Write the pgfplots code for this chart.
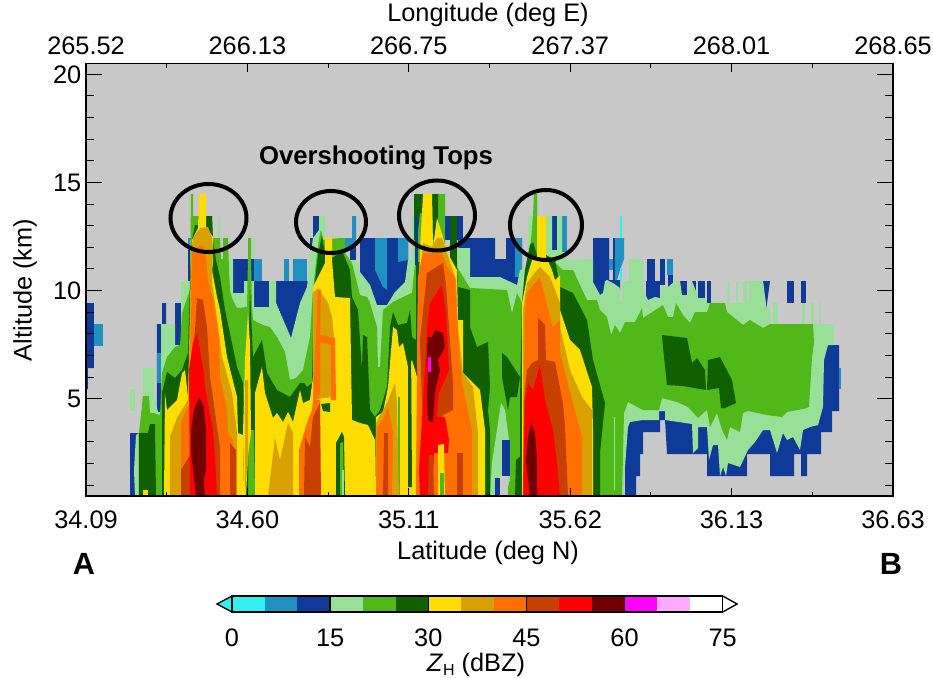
\documentclass[border=0pt]{standalone}
\usepackage{pgfplots}
\pgfplotsset{compat=1.18}
\usepackage{fontspec}
\setmainfont{Liberation Sans}
\definecolor{bgg}{HTML}{C8C8C8}
\definecolor{ca}{HTML}{30F0F0}\definecolor{cb}{HTML}{2090C0}\definecolor{cc}{HTML}{103A98}
\definecolor{cd}{HTML}{98E098}\definecolor{ce}{HTML}{50B818}\definecolor{cf}{HTML}{106000}
\definecolor{cg}{HTML}{FFDD00}\definecolor{ch}{HTML}{D8A000}\definecolor{ci}{HTML}{FF7000}
\definecolor{cj}{HTML}{C84000}\definecolor{ck}{HTML}{FF0000}\definecolor{cl}{HTML}{700000}
\definecolor{cm}{HTML}{FF00FF}\definecolor{cn}{HTML}{FFAAFF}
\newcommand{\fa}{\fontsize{19}{22}\selectfont}
\pgfplotsset{
  base/.style={scale only axis,width=605.25pt,height=324.375pt,at={(64.5pt,-372pt)},anchor=south west,
    xmin=34.09,xmax=36.63,ymin=0.5,ymax=20.5,axis line style={line width=1.3pt},tick style={black,line width=0.8pt},
    tick label style={font=\fa},/pgf/number format/assume math mode=true,
    tick align=inside},
  xt/.style={xtick={34.09,34.598,35.106,35.614,36.122,36.63},minor xtick={34.344,34.852,35.36,35.868,36.376},
    major tick length=6pt,minor tick length=3pt,ytick=\empty,xtick pos=both},
  a/.style={fill=ca,draw=none},b/.style={fill=cb,draw=none},c/.style={fill=cc,draw=none},
  d/.style={fill=cd,draw=none},e/.style={fill=ce,draw=none},f/.style={fill=cf,draw=none},
  g/.style={fill=cg,draw=none},h/.style={fill=ch,draw=none},i/.style={fill=ci,draw=none},
  j/.style={fill=cj,draw=none},k/.style={fill=ck,draw=none},l/.style={fill=cl,draw=none},
}
\begin{document}
\begin{tikzpicture}[x=0.75pt,y=-0.75pt]
\path[use as bounding box] (0,0) rectangle (933,678);
\begin{axis}[base,axis on top,axis background/.style={fill=bgg},
  xtick=\empty,ytick={5,10,15,20},minor ytick={1,2,3,4,6,7,8,9,11,12,13,14,16,17,18,19},
  major tick length=12pt,minor tick length=6pt,ytick pos=both,yticklabel pos=left,
  x filter/.expression={34.09+(x-86)*0.0031475},y filter/.expression={0.5+(496-y)/21.625}]
% blue and light blue
\addplot[c] coordinates {(86,303)(94,303)(94,368)(88,368)(88,389)(86,389)};
\addplot[b] coordinates {(94,324)(103,324)(103,346)(94,346)};
\addplot[c] coordinates {(130,433)(139,433)(139,496)(130,496)};
\addplot[c] coordinates {(157,324)(162,324)(162,303)(166,303)(166,330)(162,412)(157,412)};
\addplot[b] coordinates {(157,353)(161,353)(161,383)(157,383)};
\addplot[c] coordinates {(175,303)(181,303)(181,345)(175,345)};
\addplot[b] coordinates {(188,238)(191,238)(191,250)(188,250)};
\addplot[c] coordinates {(188,250)(190,250)(190,281)(188,281)};
\addplot[c] coordinates {(233,259)(254,259)(254,281)(244,281)(244,293)(233,293)};
\addplot[b] coordinates {(254,259)(262,259)(262,281)(254,281)};
\addplot[c] coordinates {(254,281)(269,281)(269,307)(254,307)};
\addplot[c] coordinates {(276,281)(313,281)(313,300)(291,340)(276,303)};
\addplot[b] coordinates {(284,259)(289,259)(289,281)(284,281)};
\addplot[b] coordinates {(293,259)(307,259)(307,281)(293,281)};
\addplot[c] coordinates {(310,238)(313,238)(313,216)(319,216)(319,250)(310,250)};
\addplot[c] coordinates {(350,238)(356,238)(356,260)(350,260)};
\addplot[b] coordinates {(345,238)(352,238)(352,216)(356,216)(356,238)(356,245)(345,253)};
\addplot[c] coordinates {(360,238)(408,238)(408,290)(395,300)(385,310)(375,310)(365,285)(360,280)};
\addplot[b] coordinates {(375,238)(387,238)(387,290)(383,287)(375,270)};
\addplot[b] coordinates {(398,238)(408,238)(408,260)(398,262)};
\addplot[c] coordinates {(445,216)(463,216)(463,240)(445,240)};
\addplot[c] coordinates {(458,238)(495,238)(495,259)(506,259)(506,238)(522,238)(522,290)(460,290)};
\addplot[b] coordinates {(515,238)(522,238)(522,277)(515,277)};
\addplot[c] coordinates {(552,216)(557,216)(557,250)(552,250)};
\addplot[b] coordinates {(562,216)(567,216)(567,252)(562,252)};
\addplot[c] coordinates {(593,238)(609,238)(609,280)(618,280)(619,295)(593,295)};
\addplot[b] coordinates {(609,259)(613,259)(613,270)(609,270)};
\addplot[c] coordinates {(613,238)(615,238)(615,280)(620,280)(620,290)(613,290)};
\addplot[b] coordinates {(615,238)(624,238)(624,259)(620,270)(617,280)(615,280)};
\addplot[a] coordinates {(620,216)(622,216)(622,238)(620,238)};
\addplot[a] coordinates {(620,268)(622,268)(622,281)(620,281)};
\addplot[c] coordinates {(646,281)(660,281)(660,300)(646,300)};
\addplot[c] coordinates {(647,259)(655,259)(655,285)(647,285)};
\addplot[c] coordinates {(660,259)(665,259)(665,285)(660,285)};
\addplot[b] coordinates {(667,259)(673,259)(673,275)(667,275)};
\addplot[c] coordinates {(668,275)(673,275)(673,288)(668,288)};
\addplot[c] coordinates {(680,281)(687,281)(687,296)(680,296)};
\addplot[c] coordinates {(692,281)(696,281)(696,295)(692,295)};
\addplot[c] coordinates {(698,281)(705,281)(705,300)(698,300)};
\addplot[c] coordinates {(707,281)(711,281)(711,303)(707,303)};
\addplot[c] coordinates {(763,281)(770,281)(766,311)};
\addplot[c] coordinates {(787,281)(794,281)(794,303)(787,303)};
\addplot[c] coordinates {(801,281)(806,281)(806,303)(801,303)};
\addplot[c] coordinates {(625,496)(636,496)(636,476)(640,476)(640,454)(643,454)(643,432)(660,432)(660,420)(665,420)(667,454)(707,454)(707,476)(747,476)(747,454)(770,454)(770,476)(794,476)(794,454)(801,454)(801,476)(807,476)(807,454)(821,454)(821,432)(832,432)(832,411)(839,411)(839,345)(828,345)(700,400)(625,400)};
\addplot[b] coordinates {(839,368)(841,368)(841,389)(839,389)};
% light green
\addplot[d] coordinates {(130,389)(135,389)(135,411)(130,411)};
\addplot[d] coordinates {(253,238)(255,238)(255,259)(253,259)};
\addplot[d] coordinates {(773,303)(778,303)(778,324)(773,324)};
\addplot[d] coordinates {(802,303)(805,303)(805,335)(802,335)};
\addplot[d] coordinates {(811,303)(814,303)(814,324)(811,324)};
\addplot[d] coordinates {(819,303)(821,303)(821,324)(819,324)};
\addplot[d] coordinates {(135,496)(134,470)(136,435)(139,433)(143,433)(143,368)(154,368)(154,395)(158,412)(161,412)(161,324)(175,324)(175,345)(181,345)(181,281)(190,281)(190,240)(213,240)(218,238)(218,216)(220,216)(220,259)(233,259)(233,293)(244,293)(244,281)(254,281)(254,307)(269,307)(269,281)(276,281)(276,303)(291,338)(300,303)(307,287)(310,259)(313,238)(319,230)(319,216)(325,216)(325,238)(340,238)(345,253)(350,260)(356,260)(360,272)(370,285)(377,305)(387,305)(395,292)(405,282)(408,260)(412,260)(412,216)(415,216)(415,262)(457,262)(457,248)(470,248)(470,277)(500,277)(517,285)(520,270)(528,268)(528,216)(533,216)(533,194)(537,194)(537,216)(552,216)(552,250)(557,250)(557,216)(562,216)(562,252)(567,252)(567,260)(593,259)(593,282)(600,295)(603,293)(605,281)(607,280)(613,283)(620,288)(620,302)(622,302)(622,281)(629,281)(629,259)(643,259)(643,281)(643,290)(648,300)(655,297)(660,298)(662,285)(668,287)(675,281)(680,281)(682,295)(687,295)(692,281)(697,294)(698,298)(705,298)(707,303)(725,303)(727,317)(728,281)(730,281)(730,303)(736,303)(736,281)(738,281)(738,303)(743,303)(743,281)(747,281)(747,303)(749,303)(749,281)(763,281)(767,311)(770,307)(770,324)(834,324)(834,345)(828,345)(824,360)(823,407)(818,425)(810,427)(803,430)(800,450)(793,437)(787,440)(783,433)(777,453)(770,430)(763,430)(755,442)(748,450)(740,467)(728,463)(726,476)(723,467)(720,476)(718,445)(713,445)(709,460)(707,427)(698,427)(698,448)(693,453)(692,424)(665,420)(665,411)(659,411)(659,420)(643,420)(630,422)(628,427)(625,467)(623,496)};
% green
\addplot[e] coordinates {(139,496)(139,433)(143,396)(149,396)(150,413)(154,413)(160,415)(162,373)(167,357)(175,347)(180,345)(182,313)(190,290)(191,194)(193,194)(193,216)(212,216)(213,238)(220,238)(221,259)(223,259)(223,238)(228,238)(229,270)(230,290)(232,298)(237,308)(247,307)(248,259)(248,238)(251,238)(251,259)(252,307)(253,320)(263,325)(270,327)(277,337)(285,352)(290,380)(296,378)(303,370)(310,337)(313,290)(317,253)(320,233)(321,230)(323,240)(340,238)(345,238)(345,253)(352,263)(360,295)(367,297)(370,303)(377,327)(378,367)(380,367)(383,310)(393,302)(403,297)(412,293)(415,263)(414,194)(445,194)(445,262)(457,267)(470,288)(507,290)(512,313)(517,293)(522,303)(525,270)(531,240)(533,216)(534,194)(537,194)(537,260)(552,260)(563,270)(573,270)(587,300)(597,300)(600,310)(607,317)(611,335)(615,325)(620,333)(625,322)(635,322)(642,308)(643,318)(663,305)(668,317)(673,317)(676,303)(683,315)(690,323)(695,312)(707,312)(710,303)(725,303)(727,312)(743,325)(750,320)(763,328)(770,324)(813,324)(814,343)(812,357)(809,407)(803,409)(787,412)(782,417)(767,415)(748,411)(743,413)(740,432)(730,427)(727,440)(722,430)(717,413)(710,427)(707,410)(698,418)(688,407)(677,402)(662,398)(659,410)(643,410)(628,402)(624,413)(622,496)};
\addplot[d] coordinates {(613.5,417)(614.5,417)(614.5,490)(613.5,490)};
% notch under the gap between storms three and four
\addplot[d] coordinates {(490,496)(492,463)(501,403)(505,410)(509,440)(510,480)(505,496)};
\addplot[c] coordinates {(502,440)(510,440)(510,476)(502,476)};
\addplot[c] coordinates {(495,478)(500,478)(500,496)(495,496)};
\addplot[fill=bgg,draw=none] coordinates {(500,476)(508,476)(508,496)(500,496)};
% dark green
\addplot[f] coordinates {(139,496)(139,433)(148,433)(150,424)(155,424)(156,496)};
\addplot[f] coordinates {(162,496)(162,393)(167,372)(175,378)(182,370)(188,353)(190,281)(192,240)(195,225)(198,225)(198,216)(212,216)(213,240)(216,260)(220,277)(225,310)(237,367)(243,383)(245,433)(248,377)(250,290)(253,357)(262,340)(267,373)(277,390)(290,397)(300,383)(304,383)(307,387)(312,383)(314,290)(318,255)(322,235)(325,255)(332,258)(340,253)(343,253)(350,270)(352,297)(358,310)(362,370)(363,335)(367,337)(370,410)(375,417)(380,410)(387,387)(390,327)(393,312)(398,325)(407,323)(410,310)(412,337)(416,340)(416,262)(457,262)(458,287)(470,290)(470,327)(477,347)(488,342)(490,387)(488,410)(490,430)(490,496)};
\addplot[f] coordinates {(502,353)(507,357)(520,377)(517,397)(510,397)(508,410)(502,377)};
\addplot[f] coordinates {(515,496)(516,460)(522,455)(522,496)};
\addplot[f] coordinates {(520,400)(522,303)(525,270)(530,245)(533,242)(537,255)(546,255)(555,260)(560,287)(573,293)(587,320)(593,360)(605,403)(600,453)(600,496)(520,496)};
\addplot[f] coordinates {(414,194)(423,194)(423,213)(420,213)(417,240)(414,240)};
\addplot[f] coordinates {(432,194)(438,194)(438,237)(433,240)};
\addplot[f] coordinates {(450,216)(457,216)(457,262)(450,262)};
\addplot[c] coordinates {(415,216)(418,216)(418,265)(415,265)};
\addplot[e] coordinates {(248,496)(248,430)(254,430)(255,496)};
\addplot[f] coordinates {(246,496)(247,456)(248,456)(248,496)};
% yellow
\addplot[g] coordinates {(143,496)(143,490)(148,490)(148,496)};
\addplot[g] coordinates {(164,496)(165,393)(167,410)(177,400)(182,373)(185,370)(188,397)(191,300)(192,240)(198,228)(199,194)(206,194)(206,227)(213,237)(213,263)(212,270)(217,297)(220,310)(227,357)(237,397)(238,433)(243,435)(244,496)};
\addplot[g] coordinates {(243,433)(245,360)(248,313)(250,343)(251,433)(248,456)(246,496)(244,496)};
\addplot[g] coordinates {(255,496)(255,393)(262,367)(265,393)(273,418)(277,413)(283,422)(288,412)(293,422)(300,390)(303,403)(310,400)(313,377)(313,287)(325,263)(325,238)(332,238)(332,260)(335,297)(350,298)(352,420)(360,423)(368,425)(375,440)(375,496)};
\addplot[g] coordinates {(375,496)(376,417)(383,412)(388,387)(393,327)(397,330)(399,347)(403,343)(408,367)(412,360)(417,377)(418,496)};
\addplot[e] coordinates {(398,397)(400,397)(400,496)(398,496)};
\addplot[f] coordinates {(408,343)(411,343)(412,487)(408,487)};
\addplot[g] coordinates {(416,496)(418,303)(420,250)(423,194)(432,194)(433,247)(437,218)(443,237)(446,250)(457,270)(458,320)(463,320)(463,373)(480,390)(485,430)(485,496)};
\addplot[g] coordinates {(522,496)(522,303)(527,277)(533,257)(537,257)(537,216)(546,216)(546,257)(552,270)(555,280)(560,275)(560,310)(570,340)(580,350)(592,387)(593,430)(593,496)};
% storm between two and three: bottom
\addplot[f] coordinates {(336,496)(336,443)(342,432)(344,437)(345,496)};
\addplot[e] coordinates {(340,496)(340,443)(343,442)(344,496)};
\addplot[d] coordinates {(342,470)(344,470)(344,496)(342,496)};
\addplot[f] coordinates {(321,404)(330,403)(330,412)(323,411)};
% gold
\addplot[h] coordinates {(170,496)(170,437)(177,418)(188,400)(191,253)(193,238)(200,228)(208,227)(212,238)(213,250)(212,283)(215,303)(222,357)(232,393)(237,433)(237,496)};
\addplot[h] coordinates {(313,293)(318,288)(328,303)(332,317)(335,347)(335,397)(322,398)(318,400)(313,400)};
\addplot[h] coordinates {(268,496)(275,438)(280,460)(288,423)(293,433)(293,496)};
\addplot[h] coordinates {(376,496)(376,423)(387,403)(395,383)(397,403)(399,496)};
\addplot[h] coordinates {(245,496)(245,380)(248,380)(248,456)};
\addplot[h] coordinates {(418,290)(423,243)(432,247)(437,238)(442,238)(446,250)(456,280)(458,327)(463,373)(473,387)(478,433)(478,496)(416,496)};
\addplot[h] coordinates {(523,496)(523,310)(527,283)(537,270)(540,267)(550,277)(560,303)(560,327)(570,370)(582,397)(592,410)(592,496)};
% orange
\addplot[i] coordinates {(181,496)(181,423)(186,410)(190,403)(192,250)(203,245)(206,257)(208,280)(213,300)(219,337)(220,377)(227,410)(228,433)(233,440)(236,496)};
\addplot[i] coordinates {(318,290)(321,290)(320,335)(335,338)(336,400)(331,400)(331,345)(320,342)(320,395)(315,400)(313,400)};
\addplot[i] coordinates {(299,496)(299,450)(307,423)(312,410)(313,400)(320,400)(320,496)};
\addplot[i] coordinates {(376,496)(377,427)(383,420)(388,407)(393,433)(392,496)};
\addplot[i] coordinates {(418,277)(423,253)(442,253)(447,267)(455,277)(457,320)(462,383)(472,430)(472,496)(416,496)};
\addplot[i] coordinates {(523,496)(525,313)(527,293)(540,277)(550,317)(553,327)(560,320)(560,353)(573,403)(582,437)(582,496)};
% dark orange
\addplot[j] coordinates {(197,298)(203,300)(207,327)(210,377)(213,397)(217,427)(220,447)(220,496)(190,496)(190,380)(195,330)};
\addplot[j] coordinates {(181,496)(181,470)(190,455)(190,496)};
\addplot[j] coordinates {(230,443)(236,450)(236,496)(230,496)};
\addplot[j] coordinates {(304,496)(305,437)(310,447)(313,417)(320,403)(321,496)};
\addplot[j] coordinates {(383,496)(384,433)(388,433)(388,496)};
\addplot[j] coordinates {(420,340)(427,273)(443,263)(446,285)(449,327)(453,383)(453,410)(443,415)(438,433)(423,433)};
\addplot[j] coordinates {(457,496)(457,453)(463,453)(463,496)};
\addplot[j] coordinates {(527,370)(532,363)(538,360)(538,318)(545,325)(546,360)(555,362)(563,403)(565,427)(568,496)(523,496)(524,400)};
% red
\addplot[k] coordinates {(197,333)(203,367)(205,387)(208,403)(213,430)(215,457)(217,496)(190,496)(189,370)(193,343)};
\addplot[k] coordinates {(427,327)(430,303)(442,285)(446,313)(449,370)(439,393)(437,417)(445,417)(449,440)(448,453)(437,453)(432,496)(420,496)(419,470)(422,420)(425,370)};
\addplot[k] coordinates {(525,403)(528,383)(533,390)(540,365)(545,400)(553,430)(557,463)(560,496)(523,496)};
\addplot[i] coordinates {(432,496)(434,453)(448,453)(450,496)};
\addplot[j] coordinates {(428,496)(429,455)(433,455)(434,496)};
\addplot[g] coordinates {(438,496)(438,445)(444,444)(445,496)};
\addplot[e] coordinates {(440,496)(440,473)(444,473)(444,496)};
% maroon
\addplot[l] coordinates {(199,397)(204,407)(206,430)(206,470)(204,480)(205,496)(196,496)(193,470)(191,450)(191,430)(194,410)};
\addplot[l] coordinates {(428,337)(432,337)(435,330)(443,333)(445,347)(438,360)(440,370)(435,393)(433,423)(428,420)(427,397)(428,377)(427,357)};
\addplot[l] coordinates {(528,437)(531,423)(535,433)(537,460)(537,496)(530,496)(526,460)};
\addplot[fill=cm,draw=none] coordinates {(428,357)(431,357)(431,372)(428,372)};
% dark green blocks, right side
\addplot[f] coordinates {(662,335)(687,338)(692,363)(697,358)(705,370)(706,390)(683,386)(667,385)(663,347)};
\addplot[f] coordinates {(708,360)(720,357)(732,380)(736,403)(725,408)(721,408)(719,388)(707,390)};
\end{axis}
\begin{axis}[base,xt,axis line style={draw=none},xticklabel pos=lower,xticklabel style={yshift=-7.5pt},
  xticklabels={34.09,34.60,35.11,35.62,36.13,36.63}]
\end{axis}
\begin{axis}[base,xt,axis line style={draw=none},xticklabel pos=upper,xticklabel style={yshift=3pt},
  xticklabels={265.52,266.13,266.75,267.37,268.01,268.65}]
\end{axis}
\begin{axis}[scale only axis,width=368pt,height=12pt,at={(174pt,-459pt)},anchor=south west,
  xmin=0,xmax=75,ymin=0,ymax=1,clip=false,axis on top,ytick=\empty,xtick={0,15,...,75},
  major tick length=0pt,xmajorgrids,grid style={black,line width=1pt},
  axis line style={line width=1pt},tick label style={font=\fa},
  /pgf/number format/assume math mode=true,xticklabel style={yshift=-9pt}]
\addplot[fill=ca,draw=black,line width=1pt] coordinates {(0,0)(-2.3,.5)(0,1)};
\addplot[fill=white,draw=black,line width=1pt] coordinates {(75,0)(77.2,.5)(75,1)};
\addplot[a] coordinates {(0,0)(5,0)(5,1)(0,1)};
\addplot[b] coordinates {(5,0)(10,0)(10,1)(5,1)};
\addplot[c] coordinates {(10,0)(15,0)(15,1)(10,1)};
\addplot[d] coordinates {(15,0)(20,0)(20,1)(15,1)};
\addplot[e] coordinates {(20,0)(25,0)(25,1)(20,1)};
\addplot[f] coordinates {(25,0)(30,0)(30,1)(25,1)};
\addplot[g] coordinates {(30,0)(35,0)(35,1)(30,1)};
\addplot[h] coordinates {(35,0)(40,0)(40,1)(35,1)};
\addplot[i] coordinates {(40,0)(45,0)(45,1)(40,1)};
\addplot[j] coordinates {(45,0)(50,0)(50,1)(45,1)};
\addplot[k] coordinates {(50,0)(55,0)(55,1)(50,1)};
\addplot[l] coordinates {(55,0)(60,0)(60,1)(55,1)};
\addplot[fill=cm,draw=none] coordinates {(60,0)(65,0)(65,1)(60,1)};
\addplot[fill=cn,draw=none] coordinates {(65,0)(70,0)(70,1)(65,1)};
\addplot[fill=white,draw=none] coordinates {(70,0)(75,0)(75,1)(70,1)};
\end{axis}
\draw[line width=3pt] (208.5,218) ellipse [x radius=38,y radius=34];
\draw[line width=3pt] (331,222) ellipse [x radius=35,y radius=31];
\draw[line width=3pt] (437,215.5) ellipse [x radius=38,y radius=35];
\draw[line width=3pt] (546,225) ellipse [x radius=36,y radius=35];
\node[font=\fa] at (488,15) {Longitude (deg E)};
\node[font=\fa] at (488,553) {Latitude (deg N)};
\node[font=\fa,rotate=90] at (25,290) {Altitude (km)};
\node[font=\fontsize{19.3}{22}\selectfont\bfseries] at (376,158) {Overshooting Tops};
\node[font=\fontsize{23}{26}\selectfont\bfseries] at (84,564) {A};
\node[font=\fontsize{23}{26}\selectfont\bfseries] at (891,564) {B};
\node[font=\fa] at (476,664.5) {\textit{Z}\raisebox{-0.3ex}{\fontsize{12}{14}\selectfont H} (dBZ)};
\end{tikzpicture}
\end{document}
